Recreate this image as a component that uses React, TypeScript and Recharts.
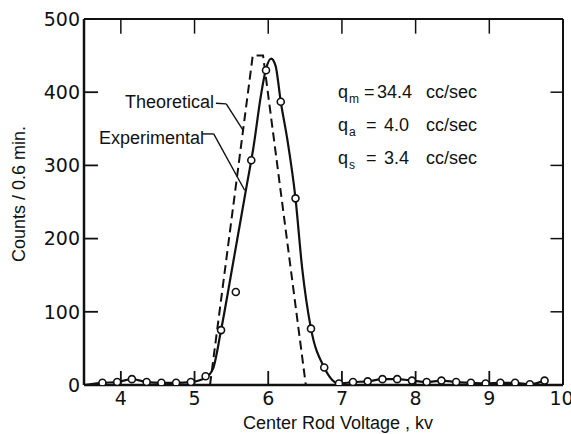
import {
  ComposedChart, Line, Scatter, XAxis, YAxis, ReferenceLine,
} from 'recharts'

// axis ticks
const xTicks = [4, 5, 6, 7, 8, 9, 10]
const yTicks = [0, 100, 200, 300, 400, 500]
const topTicks = [4, 5, 6, 7, 8, 9]
const rightTicks = [100, 200, 300, 400]

// measured points (open circles)
const expVoltage = [
  3.75, 3.95, 4.15, 4.35, 4.55, 4.75, 4.95, 5.15, 5.36, 5.56, 5.77, 5.97, 6.17, 6.37, 6.58, 6.76,
  6.96, 7.15, 7.35, 7.55, 7.75, 7.95, 8.15, 8.35, 8.55, 8.75, 8.95, 9.15, 9.35, 9.55, 9.75,
]
const expCounts = [
  3, 4, 8, 4, 3, 3, 4, 12, 75, 127, 307, 430, 387, 255, 77, 24,
  2, 4, 5, 8, 8, 6, 4, 6, 4, 3, 2, 3, 3, 1, 6,
]

// smooth experimental curve
const fitVoltage = [
  3.5, 3.75, 3.95, 4.15, 4.35, 4.55, 4.75, 4.95, 5.15, 5.25, 5.36, 5.52, 5.7, 5.8, 5.9, 5.97, 6.04,
  6.1, 6.17, 6.26, 6.37, 6.46, 6.58, 6.76, 6.96, 7.15, 7.35, 7.55, 7.75, 7.95, 8.15, 8.35, 8.55,
  8.75, 8.95, 9.15, 9.35, 9.55, 9.75,
]
const fitCounts = [
  0, 3, 4, 8, 4, 3, 3, 4, 10, 22, 75, 165, 268, 325, 395, 432, 446,
  436, 387, 335, 255, 160, 77, 24, 2, 4, 5, 8, 8, 6, 4, 6, 4,
  3, 2, 3, 3, 1, 6,
]

// theoretical (dashed)
const theoVoltage = [5.21, 5.79, 5.93, 6.51]
const theoCounts = [0, 450, 450, 0]

// leader lines for the two labels
const theoLeaderV = [5.29, 5.43, 5.66]
const theoLeaderC = [385, 384, 348]
const expLeaderV = [5.1, 5.26, 5.68]
const expLeaderC = [343, 343, 266]

const X_MIN = 3.5
const X_MAX = 10
const Y_MAX = 500
const TICK_DY = 20 // counts, ~14px inward
const TICK_DX = 0.17 // kv, ~12px inward

const zip = (xs: number[], ys: number[]) => xs.map((x, i) => ({ x, y: ys[i] }))

const expData = zip(expVoltage, expCounts)
const fitData = zip(fitVoltage, fitCounts)
const theoData = zip(theoVoltage, theoCounts)

const segs = (xs: number[], ys: number[]) =>
  xs.slice(1).map((x, i) => [{ x: xs[i], y: ys[i] }, { x, y: ys[i + 1] }])

const leaderSegs = [...segs(theoLeaderV, theoLeaderC), ...segs(expLeaderV, expLeaderC)]

// frame: top and right borders with their inward ticks
const frameSegs = [
  [{ x: X_MIN, y: Y_MAX }, { x: X_MAX, y: Y_MAX }],
  [{ x: X_MAX, y: 0 }, { x: X_MAX, y: Y_MAX }],
  ...topTicks.map(t => [{ x: t, y: Y_MAX }, { x: t, y: Y_MAX - TICK_DY }]),
  ...rightTicks.map(t => [{ x: X_MAX, y: t }, { x: X_MAX - TICK_DX, y: t }]),
]

const INK = '#111'
const tickFont = { fill: INK, fontSize: 19, fontFamily: 'DejaVu Sans' }
const textFont = 'Liberation Sans'

function OpenCircle(props: { cx?: number; cy?: number }) {
  if (props.cx == null || props.cy == null) return null
  return <circle cx={props.cx} cy={props.cy} r={3.5} fill="#fff" stroke={INK} strokeWidth={1.6} />
}

export default function App() {
  return (
    <div style={{ position: 'relative', width: 571, height: 434, background: '#fff' }}>
      <style>{'body{margin:0}'}</style>
      <ComposedChart
        width={571}
        height={434}
        margin={{ top: 19, right: 8, bottom: 0, left: 24 }}
      >
        <XAxis
          dataKey="x"
          type="number"
          domain={[X_MIN, X_MAX]}
          ticks={xTicks}
          height={49}
          tickSize={-14}
          tickMargin={21}
          tick={tickFont}
          axisLine={{ stroke: INK, strokeWidth: 2.5 }}
          tickLine={{ stroke: INK, strokeWidth: 1.8 }}
          allowDataOverflow
        />
        <YAxis
          type="number"
          domain={[0, Y_MAX]}
          ticks={yTicks}
          width={60}
          tickSize={-14}
          tickMargin={18}
          tick={tickFont}
          axisLine={{ stroke: INK, strokeWidth: 2.5 }}
          tickLine={{ stroke: INK, strokeWidth: 1.8 }}
          allowDataOverflow
        />
        {frameSegs.map((s, i) => (
          <ReferenceLine
            key={'f' + i}
            segment={s}
            ifOverflow="visible"
            stroke={INK}
            strokeWidth={i < 2 ? 2 : 1.5}
          />
        ))}
        <Line
          data={theoData}
          dataKey="y"
          type="linear"
          stroke={INK}
          strokeWidth={2}
          strokeDasharray="9 5"
          dot={false}
          isAnimationActive={false}
        />
        <Line
          data={fitData}
          dataKey="y"
          type="monotoneX"
          stroke={INK}
          strokeWidth={2.2}
          dot={false}
          isAnimationActive={false}
        />
        {leaderSegs.map((s, i) => (
          <ReferenceLine key={'l' + i} segment={s} stroke={INK} strokeWidth={1.4} />
        ))}
        <Scatter
          data={expData}
          dataKey="y"
          shape={<OpenCircle />}
          isAnimationActive={false}
        />
      </ComposedChart>

      {/* labels */}
      <svg
        width={571}
        height={434}
        style={{ position: 'absolute', left: 0, top: 0, pointerEvents: 'none' }}
        fontFamily={textFont}
        fill={INK}
      >
        <text transform="translate(25,194) rotate(-90)" textAnchor="middle" fontSize={18}>
          Counts / 0.6 min.
        </text>
        <text x={338} y={429} textAnchor="middle" fontSize={18}>
          Center Rod Voltage , kv
        </text>
        <text x={125} y={108} fontSize={18}>Theoretical</text>
        <text x={99} y={144} fontSize={18}>Experimental</text>

        <g fontSize={18}>
          <text y={98}>
            <tspan x={338}>q</tspan>
            <tspan x={349} dy={5} fontSize={12}>m</tspan>
            <tspan x={364} dy={-5}>=</tspan>
            <tspan x={377}>34.4</tspan>
            <tspan x={426}>cc/sec</tspan>
          </text>
          <text y={131}>
            <tspan x={338}>q</tspan>
            <tspan x={349} dy={5} fontSize={12}>a</tspan>
            <tspan x={366} dy={-5}>=</tspan>
            <tspan x={384}>4.0</tspan>
            <tspan x={426}>cc/sec</tspan>
          </text>
          <text y={164}>
            <tspan x={338}>q</tspan>
            <tspan x={349} dy={5} fontSize={12}>s</tspan>
            <tspan x={366} dy={-5}>=</tspan>
            <tspan x={384}>3.4</tspan>
            <tspan x={426}>cc/sec</tspan>
          </text>
        </g>
      </svg>
    </div>
  )
}
